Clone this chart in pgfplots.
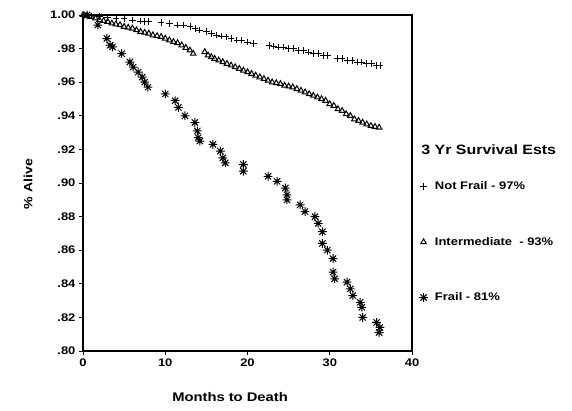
\documentclass[border=0pt]{standalone}
\usepackage{pgfplots}
\pgfplotsset{compat=1.18}
\usepackage{fontspec}
\setmainfont[FakeStretch=1.18]{Liberation Sans}

% eight-armed star for the Frail group
\pgfdeclareplotmark{star8}{%
  \pgfpathmoveto{\pgfqpoint{-\pgfplotmarksize}{0pt}}\pgfpathlineto{\pgfqpoint{\pgfplotmarksize}{0pt}}%
  \pgfpathmoveto{\pgfqpoint{0pt}{-\pgfplotmarksize}}\pgfpathlineto{\pgfqpoint{0pt}{\pgfplotmarksize}}%
  \pgfpathmoveto{\pgfqpoint{-0.707\pgfplotmarksize}{-0.707\pgfplotmarksize}}\pgfpathlineto{\pgfqpoint{0.707\pgfplotmarksize}{0.707\pgfplotmarksize}}%
  \pgfpathmoveto{\pgfqpoint{-0.707\pgfplotmarksize}{0.707\pgfplotmarksize}}\pgfpathlineto{\pgfqpoint{0.707\pgfplotmarksize}{-0.707\pgfplotmarksize}}%
  \pgfusepathqstroke}

\begin{document}
\begin{tikzpicture}
\begin{axis}[
    at={(83pt,59pt)}, anchor=south west,
    scale only axis,
    width=329pt, height=336pt,
    xmin=0, xmax=40, ymin=0.80, ymax=1.00,
    xtick={0,10,20,30,40},
    ytick={0.80,0.82,0.84,0.86,0.88,0.90,0.92,0.94,0.96,0.98,1.00},
    yticklabels={.80,.82,.84,.86,.88,.90,.92,.94,.96,.98,1.00},
    tick align=outside, tick pos=left,
    major tick length=4pt,
    axis line style={line width=1.1pt},
    every tick/.style={black, line width=0.9pt},
    /pgf/number format/assume math mode=true,
    ticklabel style={font=\bfseries\fontsize{11}{13}\selectfont},
    xlabel={Months to Death},
    ylabel={\% Alive},
    every axis x label/.style={at={(axis description cs:0.447,-0.137)}, anchor=center, font=\bfseries\fontsize{12.5}{14}\selectfont},
    every axis y label/.style={at={(axis description cs:-0.167,0.497)}, rotate=90, anchor=center, font=\bfseries\fontsize{12}{14}\selectfont},
    clip=false,
    legend style={at={(axis description cs:1.012,0.516)}, anchor=north west, draw=none, fill=none,
        row sep=42pt, font=\bfseries\fontsize{11}{13}\selectfont,
        /tikz/every odd column/.append style={column sep=5pt}},
    legend cell align=left,
]

% Not Frail
\addplot[only marks, mark=+, mark size=3.3pt, black, line width=0.7pt] coordinates {
 (0,1.000) (1,0.9995) (2,0.999) (3,0.9985) (4,0.998) (5,0.998) (6,0.997) (7,0.9965)
 (7.5,0.996) (8,0.996) (9.5,0.9955) (10.5,0.995) (11.5,0.994) (12.2,0.994) (13,0.993)
 (13.6,0.992) (14.2,0.991) (15,0.990) (15.6,0.989) (16.2,0.988) (16.8,0.9875) (17.4,0.987)
 (18,0.986) (18.7,0.985) (19.3,0.985) (20,0.984) (20.7,0.983) (22.6,0.982) (23.2,0.9815)
 (23.8,0.981) (24.4,0.981) (25,0.980) (25.6,0.980) (26.2,0.979) (26.8,0.979) (27.4,0.978)
 (28,0.977) (28.6,0.977) (29.2,0.976) (29.7,0.976) (30.9,0.974) (31.5,0.974) (32.1,0.973)
 (32.7,0.973) (33.3,0.972) (33.9,0.972) (34.5,0.971) (35.1,0.971) (35.7,0.970) (36.1,0.970)
};
\addlegendentry{Not Frail - 97\%}

% Intermediate
\addplot[only marks, mark=triangle, mark size=3.2pt, black, line width=1pt] coordinates {
 (0,1.000) (0.5,0.9995) (1,0.999) (1.5,0.998) (2,0.997) (2.5,0.9965) (3,0.996) (3.5,0.995)
 (4,0.9945) (4.5,0.994) (5,0.993) (5.5,0.9925) (6,0.992) (6.5,0.991) (7,0.990) (7.5,0.9895)
 (8,0.989) (8.5,0.988) (9,0.9875) (9.5,0.987) (10,0.986) (10.5,0.985) (11,0.984) (11.5,0.9833)
 (12,0.982) (12.5,0.9805) (13,0.979) (13.4,0.977)
 (14.8,0.978) (15.2,0.976) (15.6,0.975) (16,0.974) (16.5,0.973) (17,0.972) (17.5,0.971)
 (18,0.970) (18.5,0.969) (19,0.968) (19.5,0.967) (20,0.966) (20.5,0.965) (21,0.964)
 (21.5,0.963) (22,0.962) (22.5,0.961) (23,0.960) (23.5,0.9595) (24,0.959) (24.5,0.958)
 (25,0.9575) (25.5,0.957) (26,0.956) (26.5,0.955) (27,0.954) (27.5,0.953) (28,0.952)
 (28.5,0.951) (29,0.950) (29.5,0.949) (30,0.947) (30.5,0.946) (31,0.944) (31.5,0.943)
 (32,0.941) (32.5,0.940) (33,0.938) (33.5,0.937) (34,0.936) (34.5,0.935) (35,0.934)
 (35.5,0.9335) (36,0.933)
};
\addlegendentry{Intermediate\ \ - 93\%}

% Frail
\addplot[only marks, mark=star8, mark size=4.4pt, black, line width=1pt] coordinates {
 (0.5,1.000) (1.8,0.994) (2.9,0.986) (3.3,0.982) (3.6,0.981) (4.7,0.977) (5.7,0.972)
 (6.1,0.969) (6.7,0.966) (7.2,0.963) (7.5,0.960) (7.9,0.957) (10.0,0.953) (11.2,0.949)
 (11.6,0.945) (12.4,0.940) (13.6,0.936) (13.9,0.931) (14.0,0.927) (14.2,0.925) (15.8,0.923)
 (16.7,0.919) (17.0,0.915) (17.3,0.912) (19.5,0.911) (19.5,0.907) (22.5,0.904) (23.6,0.901)
 (24.6,0.897) (24.8,0.893) (24.8,0.890) (26.4,0.887) (27.0,0.883) (28.2,0.880) (28.6,0.876)
 (29.1,0.871) (29.1,0.864) (29.7,0.860) (30.4,0.855) (30.4,0.847) (30.6,0.843) (32.1,0.841)
 (32.5,0.837) (32.8,0.833) (33.7,0.829) (33.9,0.826) (34.0,0.820) (35.7,0.817) (36.1,0.814)
 (36.0,0.811)
};
\addlegendentry{Frail - 81\%}

\node[anchor=west, font=\bfseries\fontsize{13.5}{15}\selectfont] at (rel axis cs:1.018,0.598) {3 Yr Survival Ests};
\end{axis}
\pgfresetboundingbox
\path (0,0) rectangle (572pt,410pt);
\end{tikzpicture}
\end{document}
